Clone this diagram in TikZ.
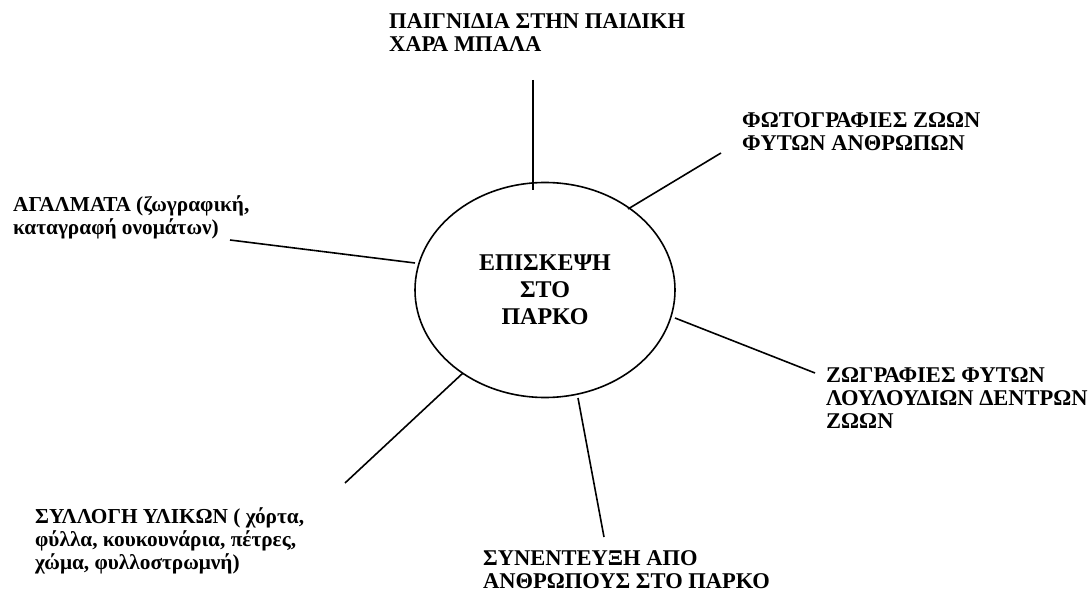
\documentclass[tikz,border=0pt]{standalone}
\usepackage{fontspec}
\setmainfont{Liberation Serif}
\usetikzlibrary{shapes.geometric}
\tikzset{
  lbl/.style={anchor=base west, inner sep=0pt, align=left, font=\bfseries\fontsize{22.5}{23}\selectfont},
  lbls/.style={lbl, font=\bfseries\fontsize{21.3}{23}\selectfont},
  conn/.style={line width=1.6pt},
}
\begin{document}
\begin{tikzpicture}[x=1pt,y=-1pt]
\useasboundingbox[fill=white] (0,0) rectangle (1092,593);
\node[draw, line width=1.6pt, ellipse, minimum width=260pt, minimum height=215pt, inner sep=0pt, align=center, font=\bfseries\fontsize{24}{27}\selectfont] (c) at (545,290) {ΕΠΙΣΚΕΨΗ\\ΣΤΟ\\ΠΑΡΚΟ};
\node[lbl] (t1) at (389,52) {ΠΑΙΓΝΙΔΙΑ ΣΤΗΝ ΠΑΙΔΙΚΗ\\ΧΑΡΑ ΜΠΑΛΑ};
\node[lbl] (t2) at (742,151) {ΦΩΤΟΓΡΑΦΙΕΣ ΖΩΩΝ\\ΦΥΤΩΝ ΑΝΘΡΩΠΩΝ};
\node[lbls] (t3) at (13,235) {ΑΓΑΛΜΑΤΑ (ζωγραφική,\\καταγραφή ονομάτων)};
\node[lbl] (t4) at (826,428) {ΖΩΓΡΑΦΙΕΣ ΦΥΤΩΝ\\ΛΟΥΛΟΥΔΙΩΝ ΔΕΝΤΡΩΝ\\ΖΩΩΝ};
\node[lbls] (t5) at (35,569) {ΣΥΛΛΟΓΗ ΥΛΙΚΩΝ ( χόρτα,\\φύλλα, κουκουνάρια, πέτρες,\\χώμα, φυλλοστρωμνή)};
\node[lbl] (t6) at (483,588) {ΣΥΝΕΝΤΕΥΞΗ ΑΠΟ\\ΑΝΘΡΩΠΟΥΣ ΣΤΟ ΠΑΡΚΟ};
\coordinate (a1) at (533,80);  \coordinate (b1) at (533,190);
\coordinate (a2) at (721,153); \coordinate (b2) at (628,209);
\coordinate (a3) at (230,240); \coordinate (b3) at (415,263);
\coordinate (a4) at (815,373); \coordinate (b4) at (675,318);
\coordinate (a5) at (345,483); \coordinate (b5) at (463,373);
\coordinate (a6) at (604,537); \coordinate (b6) at (578,398);
\foreach \i in {1,...,6} \draw[conn] (a\i) -- (b\i);
\end{tikzpicture}
\end{document}
